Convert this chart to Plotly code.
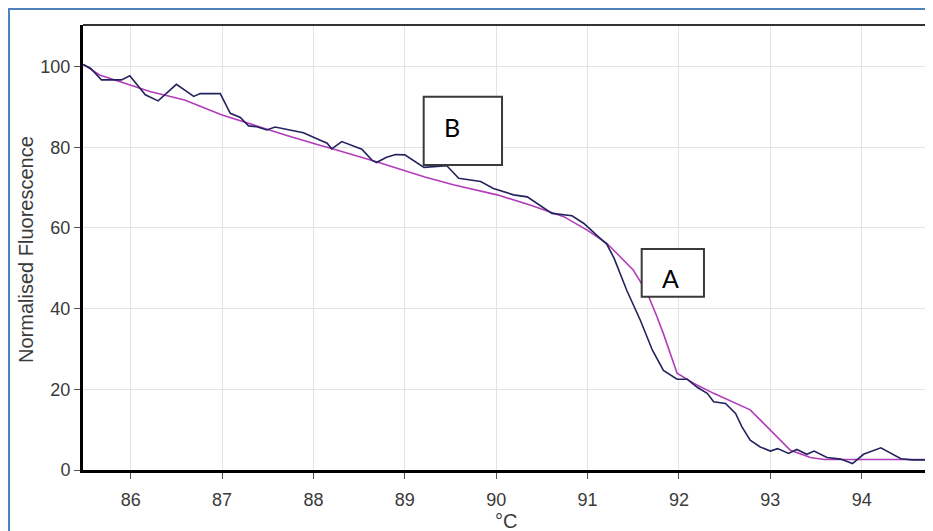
import plotly.graph_objects as go

# Navy (noisy) melt curve
temp_b = [85.48, 85.56, 85.68, 85.90, 85.99, 86.16, 86.30, 86.50, 86.69, 86.76,
          86.98, 87.09, 87.20, 87.29, 87.38, 87.49, 87.58, 87.75, 87.89, 88.05,
          88.15, 88.20, 88.31, 88.53, 88.64, 88.69, 88.80, 88.90, 89.00, 89.21,
          89.46, 89.59, 89.83, 89.97, 90.19, 90.34, 90.45, 90.61, 90.83, 90.96,
          91.12, 91.21, 91.29, 91.43, 91.58, 91.71, 91.83, 91.98, 92.09, 92.20,
          92.31, 92.38, 92.51, 92.62, 92.69, 92.78, 92.89, 93.00, 93.08, 93.20,
          93.29, 93.40, 93.48, 93.62, 93.77, 93.90, 94.02, 94.21, 94.43, 94.55, 94.74]
fluor_b = [100.5, 99.6, 96.7, 96.7, 97.7, 93.0, 91.5, 95.6, 92.6, 93.3,
           93.3, 88.4, 87.4, 85.3, 85.1, 84.3, 85.0, 84.3, 83.6, 82.0,
           81.0, 79.6, 81.4, 79.5, 76.8, 76.2, 77.5, 78.2, 78.1, 75.0,
           75.4, 72.3, 71.5, 69.8, 68.2, 67.7, 66.1, 63.6, 63.0, 61.1,
           57.8, 56.0, 52.5, 44.5, 37.0, 29.7, 24.7, 22.5, 22.5, 20.5,
           19.0, 16.9, 16.5, 14.0, 10.7, 7.4, 5.7, 4.7, 5.3, 4.1,
           5.1, 3.9, 4.7, 3.1, 2.7, 1.6, 3.9, 5.5, 2.8, 2.5, 2.5]

# Magenta (smooth) melt curve
temp_a = [85.48, 85.66, 86.21, 86.59, 87.00, 87.34, 87.70, 88.05, 88.18, 88.69,
          89.21, 89.53, 90.01, 90.37, 90.74, 91.00, 91.21, 91.50, 91.65, 91.76,
          91.83, 91.98, 92.16, 92.38, 92.53, 92.64, 92.78, 92.93, 93.08, 93.22,
          93.44, 93.59, 94.74]
fluor_a = [100.5, 97.9, 93.8, 91.7, 88.0, 85.5, 83.0, 80.6, 79.8, 76.4,
           72.7, 70.7, 68.2, 65.7, 62.8, 59.4, 56.2, 49.6, 44.0, 38.0,
           33.8, 24.0, 21.5, 19.0, 17.5, 16.5, 14.9, 11.5, 8.2, 4.9,
           3.1, 2.6, 2.6]

x_ticks = [86, 87, 88, 89, 90, 91, 92, 93, 94]
y_ticks = [0, 20, 40, 60, 80, 100]
x_title = "°C"
y_title = "Normalised Fluorescence"
labels = ["B", "A"]

fig = go.Figure()
fig.add_trace(go.Scatter(x=temp_a, y=fluor_a, mode="lines",
                         line=dict(color="#b33cba", width=1.6), showlegend=False))
fig.add_trace(go.Scatter(x=temp_b, y=fluor_b, mode="lines",
                         line=dict(color="#23235e", width=1.6), showlegend=False))

tick_font = dict(family="Liberation Sans, Arial, sans-serif", size=18, color="#3a3a3a")

fig.update_layout(
    width=925, height=523,
    margin=dict(l=75, r=4, t=17, b=61),
    paper_bgcolor="white", plot_bgcolor="white",
    xaxis=dict(range=[85.478, 94.737], tickvals=x_ticks, ticktext=[str(v) for v in x_ticks],
               showgrid=True, gridcolor="#e3e3e3", gridwidth=1,
               showline=True, linecolor="black", linewidth=3, mirror=False,
               ticks="outside", ticklen=6, tickcolor="#555", tickfont=tick_font,
               ticklabelstandoff=5, zeroline=False),
    yaxis=dict(range=[0, 110.3], tickvals=y_ticks, ticktext=[str(v) for v in y_ticks],
               showgrid=True, gridcolor="#e3e3e3", gridwidth=1,
               showline=True, linecolor="black", linewidth=3, mirror=False,
               ticks="outside", ticklen=6, tickcolor="#555", tickfont=tick_font,
               zeroline=False),
    shapes=[
        # top and right plot borders (thinner)
        dict(type="line", xref="paper", yref="paper", x0=0, x1=1, y0=1, y1=1,
             line=dict(color="#333333", width=2)),
        dict(type="line", xref="paper", yref="paper", x0=1, x1=1, y0=0, y1=1,
             line=dict(color="#333333", width=2)),
        # outer blue frame
        dict(type="rect", xref="paper", yref="paper", x0=-0.0875, x1=1.05, y0=-0.25, y1=1.036,
             line=dict(color="#4f81bd", width=2), fillcolor="rgba(0,0,0,0)", layer="above"),
        # label boxes
        dict(type="rect", xref="paper", yref="paper", x0=0.4027, x1=0.4953, y0=0.6854, y1=0.8389,
             line=dict(color="#3a3a3a", width=2), fillcolor="white", layer="above"),
        dict(type="rect", xref="paper", yref="paper", x0=0.6604, x1=0.7340, y0=0.3894, y1=0.4966,
             line=dict(color="#3a3a3a", width=2), fillcolor="white", layer="above"),
    ],
    annotations=[
        dict(text=labels[0], xref="paper", yref="paper", x=0.4358, y=0.7715, showarrow=False,
             font=dict(family="Lato, sans-serif", size=25, color="black"),
             xanchor="center", yanchor="middle"),
        dict(text=labels[1], xref="paper", yref="paper", x=0.6939, y=0.4315, showarrow=False,
             font=dict(family="Lato, sans-serif", size=25, color="black"),
             xanchor="center", yanchor="middle"),
        dict(text=x_title, xref="paper", yref="paper", x=0.5, y=-0.1146, showarrow=False,
             font=dict(family="Liberation Sans, Arial, sans-serif", size=20, color="#3a3a3a"),
             xanchor="center", yanchor="middle"),
        dict(text=y_title, xref="paper", yref="paper", x=-0.068, y=0.4955, showarrow=False,
             textangle=-90,
             font=dict(family="Liberation Sans, Arial, sans-serif", size=20, color="#3a3a3a"),
             xanchor="center", yanchor="middle"),
    ],
)

fig.write_html("out.html")
